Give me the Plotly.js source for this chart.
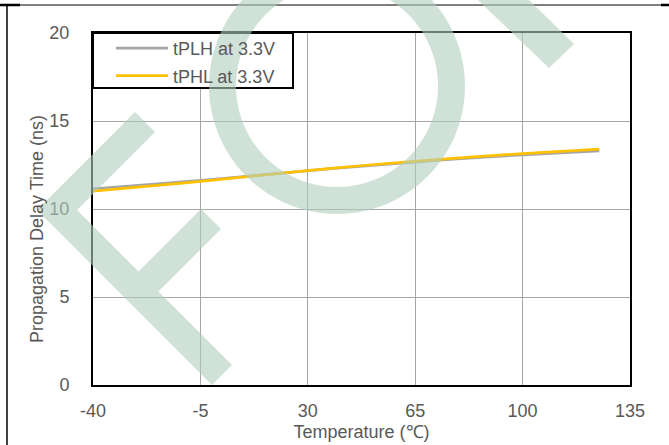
<!DOCTYPE html>
<html>
<head>
<meta charset="utf-8">
<script src="https://cdn.plot.ly/plotly-3.0.1.min.js"></script>
<style>html,body{margin:0;padding:0;background:#fff;}#chart{width:669px;height:445px;}</style>
</head>
<body>
<div id="chart"></div>
<script>
// ---- data ----
const temperature = [-40, -20, 0, 25, 50, 75, 100, 125];
const tPLH = [11.15, 11.42, 11.70, 12.10, 12.47, 12.80, 13.08, 13.30];
const tPHL = [11.02, 11.33, 11.65, 12.10, 12.50, 12.85, 13.15, 13.40];
const seriesNames = ['tPLH at 3.3V', 'tPHL at 3.3V'];
const xTicks = [-40, -5, 30, 65, 100, 135];
const xTickLabels = ['-40', '-5', '30', '65', '100', '135'];
const yTicks = [0, 5, 10, 15, 20];
const yTickLabels = ['0', '5', '10', '15', '20'];
const xTitle = 'Temperature (℃)';
const yTitle = 'Propagation Delay Time (ns)';

// ---- layout helpers (pixel -> paper) ----
const L = 93, R = 630, T = 33, B = 385;
const px = x => (x - L) / (R - L);
const py = y => (B - y) / (B - T);
const pathFrom = pts => pts.map((p, i) => (i ? 'L' : 'M') + px(p[0]).toFixed(5) + ',' + py(p[1]).toFixed(5)).join(' ') + ' Z';

const font = "'Liberation Sans', Arial, sans-serif";
const textColor = '#595959';
const wmFill = 'rgb(177,207,190)';

// watermark "F"
const fPoly = [[37,210],[135,112],[155,132],[77,210],[138.5,271.5],[201,209],[221,229],[158.5,291.5],[232,365],[212,385]];
// watermark "O" ring
function ring(cx, cy, ro, ri, n) {
  const outer = [], inner = [];
  for (let i = 0; i < n; i++) {
    const a = 2 * Math.PI * i / n;
    outer.push([cx + ro * Math.cos(a), cy + ro * Math.sin(a)]);
    inner.push([cx + ri * Math.cos(-a), cy + ri * Math.sin(-a)]);
  }
  return pathFrom(outer) + ' ' + pathFrom(inner);
}
const barPoly = [[478,0],[529,0],[574,44],[549,68]];

const traces = [
  {x: temperature, y: tPLH, name: seriesNames[0], type: 'scatter', mode: 'lines',
   line: {color: '#A5A5A5', width: 2.75, shape: 'spline', smoothing: 0.6}, legendgroup: 'a'},
  {x: temperature, y: tPHL, name: seriesNames[1], type: 'scatter', mode: 'lines',
   line: {color: '#FFC000', width: 2.75, shape: 'spline', smoothing: 0.6}, legendgroup: 'b'}
];

const axisCommon = {
  showline: true, mirror: true, linecolor: '#000', linewidth: 2,
  showgrid: true, gridcolor: '#A6A6A6', gridwidth: 1, zeroline: false,
  ticks: '', tickfont: {family: font, size: 18, color: textColor}, fixedrange: true
};

const shapes = [
  // legend box
  {type: 'rect', xref: 'paper', yref: 'paper', x0: px(93), x1: px(293), y0: py(88), y1: py(33),
   fillcolor: '#fff', line: {color: '#000', width: 2}, layer: 'above'},
  // page frame
  {type: 'line', xref: 'paper', yref: 'paper', x0: px(0), x1: px(669), y0: py(5), y1: py(5), line: {color: '#000', width: 1}},
  {type: 'line', xref: 'paper', yref: 'paper', x0: px(0), x1: px(20), y0: py(5), y1: py(5), line: {color: '#000', width: 2.5}},
  {type: 'line', xref: 'paper', yref: 'paper', x0: px(661), x1: px(669), y0: py(5), y1: py(5), line: {color: '#000', width: 2.5}},
  {type: 'line', xref: 'paper', yref: 'paper', x0: px(7), x1: px(7), y0: py(5), y1: py(445), line: {color: '#000', width: 1.5}},
  // watermark
  {type: 'path', xref: 'paper', yref: 'paper', path: pathFrom(fPoly), fillcolor: wmFill, opacity: 0.6, line: {width: 0}, layer: 'above'},
  {type: 'path', xref: 'paper', yref: 'paper', path: ring(337, 86, 128, 101, 120), fillcolor: wmFill, opacity: 0.6, line: {width: 0}, layer: 'above'},
  {type: 'path', xref: 'paper', yref: 'paper', path: pathFrom(barPoly), fillcolor: wmFill, opacity: 0.6, line: {width: 0}, layer: 'above'}
];

const layout = {
  width: 669, height: 445,
  margin: {l: L, r: 669 - R, t: T, b: 445 - B, pad: 0},
  paper_bgcolor: '#fff', plot_bgcolor: '#fff',
  font: {family: font, size: 18, color: textColor},
  showlegend: true,
  legend: {x: px(111), xanchor: 'left', y: py(30), yanchor: 'top', bgcolor: 'rgba(0,0,0,0)',
           borderwidth: 0, font: {family: font, size: 18, color: textColor}, tracegroupgap: 1, itemwidth: 52},
  xaxis: Object.assign({}, axisCommon, {range: [-40, 135], tickmode: 'array', tickvals: xTicks, ticktext: xTickLabels,
           ticklabelstandoff: 8, title: {text: xTitle, font: {family: font, size: 18, color: textColor}, standoff: 6}}),
  yaxis: Object.assign({}, axisCommon, {range: [0, 20], tickmode: 'array', tickvals: yTicks, ticktext: yTickLabels, ticklabelstandoff: 18}),
  annotations: [
    {text: yTitle, xref: 'paper', yref: 'paper', x: px(37), y: py(229), xanchor: 'center', yanchor: 'middle',
     textangle: -90, showarrow: false, font: {family: font, size: 18, color: textColor}}
  ],
  shapes: shapes
};

Plotly.newPlot('chart', traces, layout, {displayModeBar: false, staticPlot: true});
</script>
</body>
</html>
